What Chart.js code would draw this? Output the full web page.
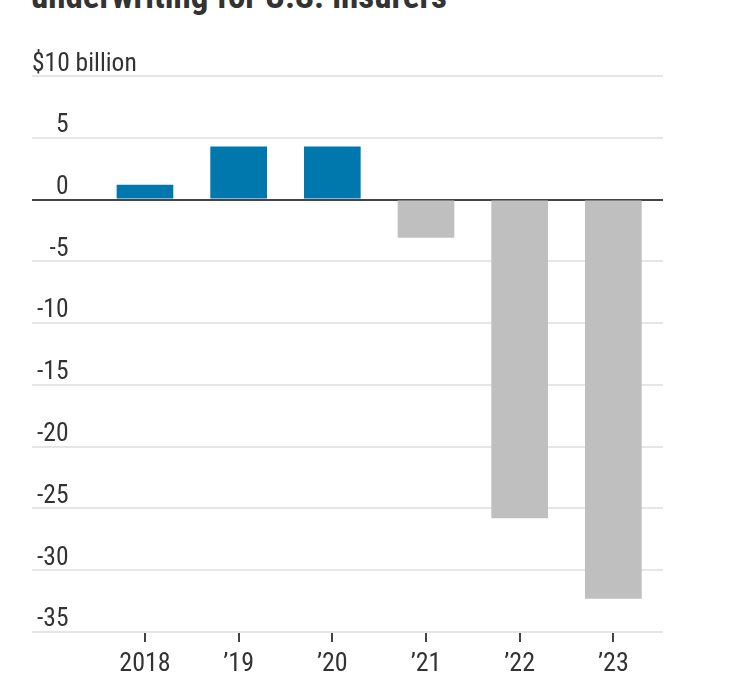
<!DOCTYPE html>
<html>
<head>
<meta charset="utf-8">
<script src="https://cdn.jsdelivr.net/npm/chart.js@4.4.1/dist/chart.umd.min.js"></script>
<style>
  html, body { margin: 0; padding: 0; background: #fff; overflow: hidden; }
  #wrap { position: relative; width: 735px; height: 675px; }
  #title { position: absolute; left: 31px; top: -21px; font-family: "Roboto Condensed", sans-serif; font-weight: bold; font-size: 35px; line-height: 35px; color: #333; white-space: nowrap; }
  canvas { position: absolute; left: 0; top: 0; }
</style>
</head>
<body>
<div id="wrap">
  <div id="title">underwriting for U.S. insurers</div>
  <canvas id="c" width="735" height="675"></canvas>
</div>
<script>
const categories = ["2018", "\u201919", "\u201920", "\u201921", "\u201922", "\u201923"];
const values = [1.2, 4.3, 4.3, -3.1, -25.8, -32.3];
const yTicks = [10, 5, 0, -5, -10, -15, -20, -25, -30, -35];
const unitLabel = "$10 billion";

const BLUE = "#0077ad";
const GREY = "#bfbfbf";
const TXT = "#333333";
const FONT = "'Roboto Condensed', sans-serif";

const zeroW = (s) => { s.width = 0; s.paddingTop = 0; s.paddingBottom = 0; };

new Chart(document.getElementById("c"), {
  type: "bar",
  data: {
    datasets: [{
      data: values.map((v, i) => ({ x: i, y: v })),
      backgroundColor: values.map(v => v >= 0 ? BLUE : GREY),
      borderWidth: 0,
      categoryPercentage: 1,
      barPercentage: 0.605
    }]
  },
  options: {
    responsive: false,
    animation: false,
    devicePixelRatio: 1,
    layout: { padding: { left: 32, right: 72, top: 76, bottom: 0 } },
    plugins: { legend: { display: false }, tooltip: { enabled: false }, title: { display: false } },
    scales: {
      x: {
        type: "linear",
        offset: false,
        min: -1.206,
        max: 5.53,
        afterBuildTicks: (s) => { s.ticks = categories.map((c, i) => ({ value: i })); },
        afterFit: (s) => { s.height = 43; s.paddingLeft = 0; s.paddingRight = 0; },
        border: { display: false },
        grid: { offset: false, drawOnChartArea: false, drawTicks: true, tickLength: 10, color: "#444", lineWidth: 2 },
        ticks: {
          autoSkip: false, maxRotation: 0, padding: 7, color: TXT,
          font: { family: FONT, size: 26 },
          callback: (v) => categories[v]
        }
      },
      y: {
        position: "left",
        min: -35, max: 10,
        afterBuildTicks: (s) => { s.ticks = yTicks.map(v => ({ value: v })); },
        afterFit: zeroW,
        border: { display: false },
        grid: {
          drawTicks: false,
          color: (ctx) => ctx.tick && ctx.tick.value === 0 ? "#444" : "#e6e6e6",
          lineWidth: 2
        },
        ticks: {
          mirror: true, crossAlign: "far", padding: 5, labelOffset: -12,
          color: TXT, font: { family: FONT, size: 25.5 },
          callback: (v) => v === 10 ? "" : String(v)
        }
      },
      y2: {
        position: "left",
        min: -35, max: 10,
        z: 1,
        afterBuildTicks: (s) => { s.ticks = yTicks.map(v => ({ value: v })); },
        afterFit: zeroW,
        border: { display: false },
        grid: {
          drawTicks: false,
          color: (ctx) => ctx.tick && ctx.tick.value === 0 ? "#444" : "rgba(0,0,0,0)",
          lineWidth: 2
        },
        ticks: {
          mirror: true, crossAlign: "near", padding: 0, labelOffset: -11,
          color: TXT, font: { family: FONT, size: 25.5 },
          callback: (v) => v === 10 ? unitLabel : ""
        }
      }
    }
  }
});
</script>
</body>
</html>
